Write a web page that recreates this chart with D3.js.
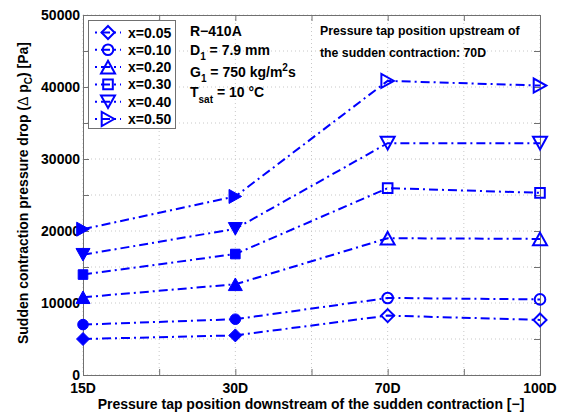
<!DOCTYPE html>
<html>
<head>
<meta charset="utf-8">
<script src="https://cdn.jsdelivr.net/npm/d3@7"></script>
<style>
  html, body { margin: 0; padding: 0; background: #fff; }
  svg { display: block; font-family: "Liberation Sans", Arial, Helvetica, sans-serif; }
</style>
</head>
<body>
<svg id="chart" width="565" height="416"></svg>
<script>
// Tap positions downstream of the contraction
const categories = ["15D", "30D", "70D", "100D"];
// Vapour qualities shown in the legend
const qualities = ["x=0.05", "x=0.10", "x=0.20", "x=0.30", "x=0.40", "x=0.50"];
// Sudden contraction pressure drop [Pa] per quality
const dpX005 = [5000, 5500, 8250, 7650];
const dpX010 = [7000, 7750, 10700, 10500];
const dpX020 = [10800, 12600, 19000, 18900];
const dpX030 = [13950, 16800, 25950, 25300];
const dpX040 = [16700, 20300, 32200, 32200];
const dpX050 = [20250, 24800, 40850, 40200];
const yTickValues = [0, 10000, 20000, 30000, 40000, 50000];
const markerShapes = ["diamond", "circle", "triangleUp", "square", "triangleDown", "triangleRight"];

const seriesValues = [dpX005, dpX010, dpX020, dpX030, dpX040, dpX050];

const svg = d3.select("#chart");
const blue = "#0000ff";
const axisGrey = "#707070";

const plotL = 83, plotR = 540, plotT = 15, plotB = 375;
const x = d3.scaleLinear().domain([0, categories.length - 1]).range([plotL, plotR]);
const y = d3.scaleLinear().domain([0, 50000]).range([plotB, plotT]);

// Marker outlines, centred on the origin
function markerPath(shape) {
  const p = d3.path();
  if (shape === "diamond") {
    const r = 6.5;
    p.moveTo(0, -r); p.lineTo(r, 0); p.lineTo(0, r); p.lineTo(-r, 0); p.closePath();
  } else if (shape === "circle") {
    p.moveTo(5.3, 0);
    p.arc(0, 0, 5.3, 0, 2 * Math.PI); p.closePath();
  } else if (shape === "square") {
    const r = 4.8;
    p.rect(-r, -r, 2 * r, 2 * r);
  } else if (shape === "triangleUp") {
    const w = 7, h = 6.3;
    p.moveTo(0, -h); p.lineTo(w, h); p.lineTo(-w, h); p.closePath();
  } else if (shape === "triangleDown") {
    const w = 7, h = 6.3;
    p.moveTo(0, h); p.lineTo(w, -h); p.lineTo(-w, -h); p.closePath();
  } else if (shape === "triangleRight") {
    const w = 7, h = 6.3;
    p.moveTo(h, 0); p.lineTo(-h, w); p.lineTo(-h, -w); p.closePath();
  }
  return p.toString();
}

// Dotted grid
const gridG = svg.append("g");
gridG.selectAll("line.gx").data(d3.range(0, categories.length - 1 + 0.001, 0.5))
  .join("line").attr("class", "gx")
  .attr("x1", d => x(d)).attr("x2", d => x(d))
  .attr("y1", plotT).attr("y2", plotB)
  .attr("stroke", "#c8c8c8").attr("stroke-width", 1).attr("stroke-dasharray", "1,3");
gridG.selectAll("line.gy").data(d3.range(0, 50001, 5000))
  .join("line").attr("class", "gy")
  .attr("x1", plotL).attr("x2", plotR)
  .attr("y1", d => y(d)).attr("y2", d => y(d))
  .attr("stroke", "#c8c8c8").attr("stroke-width", 1).attr("stroke-dasharray", "1,3");

// Axes with inward ticks on all four sides
const axG = svg.append("g");
const yAxisL = d3.axisLeft(y).tickValues(d3.range(0, 50001, 5000)).tickSize(-6).tickFormat("");
const yAxisR = d3.axisRight(y).tickValues(d3.range(0, 50001, 5000)).tickSize(-6).tickFormat("");
const xAxisB = d3.axisBottom(x).tickValues(d3.range(0, 3.001, 0.5)).tickSize(-6).tickFormat("");
const xAxisT = d3.axisTop(x).tickValues(d3.range(0, 3.001, 0.5)).tickSize(-6).tickFormat("");
axG.append("g").attr("transform", `translate(${plotL},0)`).call(yAxisL);
axG.append("g").attr("transform", `translate(${plotR},0)`).call(yAxisR);
axG.append("g").attr("transform", `translate(0,${plotB})`).call(xAxisB);
axG.append("g").attr("transform", `translate(0,${plotT})`).call(xAxisT);
axG.selectAll(".domain").attr("stroke", axisGrey).attr("stroke-width", 1);
axG.selectAll(".tick line").attr("stroke", axisGrey).attr("stroke-width", 1);

// Tick labels
svg.append("g").selectAll("text").data(yTickValues).join("text")
  .attr("x", plotL - 3).attr("y", d => y(d)).attr("dy", "0.34em")
  .attr("text-anchor", "end").attr("font-size", 14).attr("font-weight", "bold")
  .text(d => d);
svg.append("g").selectAll("text").data(categories).join("text")
  .attr("x", (d, i) => x(i)).attr("y", 393)
  .attr("text-anchor", "middle").attr("font-size", 14).attr("font-weight", "bold")
  .text(d => d);

// Axis titles
svg.append("text").attr("x", 311).attr("y", 409)
  .attr("text-anchor", "middle").attr("font-size", 14).attr("font-weight", "bold")
  .text("Pressure tap position downstream of the sudden contraction [\u2212]");
const yTitle = svg.append("text")
  .attr("transform", `translate(28,${(plotT + plotB) / 2 - 2}) rotate(-90)`)
  .attr("text-anchor", "middle").attr("font-size", 14).attr("font-weight", "bold");
yTitle.append("tspan").text("Sudden contraction pressure drop (");
yTitle.append("tspan").attr("font-weight", "normal").text("\u0394");
yTitle.append("tspan").text(" p");
yTitle.append("tspan").attr("font-size", 10).attr("dy", 4).text("C");
yTitle.append("tspan").attr("dy", -4).text(") [Pa]");

// Series: dash-dot lines, filled markers downstream 15D/30D, open beyond
const line = d3.line().x((d, i) => x(i)).y(d => y(d));
const seriesG = svg.append("g");
seriesValues.forEach((vals, s) => {
  seriesG.append("path").datum(vals).attr("d", line)
    .attr("fill", "none").attr("stroke", blue).attr("stroke-width", 2)
    .attr("stroke-dasharray", "9,4,2,4");
  seriesG.append("g").selectAll("path").data(vals).join("path")
    .attr("transform", (d, i) => `translate(${x(i)},${y(d)})`)
    .attr("d", markerPath(markerShapes[s]))
    .attr("fill", (d, i) => i < 2 ? blue : "none")
    .attr("stroke", blue).attr("stroke-width", (d, i) => i < 2 ? 1 : 2);
});

// Legend
const lg = svg.append("g");
lg.append("rect").attr("x", 88.5).attr("y", 20.5).attr("width", 87).attr("height", 108)
  .attr("fill", "#fff").attr("stroke", axisGrey).attr("stroke-width", 1);
qualities.forEach((q, i) => {
  const cy = 32.5 + i * 17.3;
  lg.append("line").attr("x1", 95).attr("x2", 121).attr("y1", cy).attr("y2", cy)
    .attr("stroke", blue).attr("stroke-width", 2).attr("stroke-dasharray", "2,4,9,4");
  lg.append("path").attr("transform", `translate(108,${cy})`)
    .attr("d", markerPath(markerShapes[i]))
    .attr("fill", "none").attr("stroke", blue).attr("stroke-width", 2);
  lg.append("text").attr("x", 128).attr("y", cy).attr("dy", "0.36em")
    .attr("font-size", 14).attr("font-weight", "bold").text(q);
});

// Test conditions
const cond = svg.append("g").attr("font-size", 14).attr("font-weight", "bold");
cond.append("text").attr("x", 190).attr("y", 36).text("R\u2212410A");
const d1 = cond.append("text").attr("x", 190).attr("y", 55);
d1.append("tspan").text("D");
d1.append("tspan").attr("font-size", 10).attr("dy", 5).text("1");
d1.append("tspan").attr("dy", -5).text(" = 7.9 mm");
const g1 = cond.append("text").attr("x", 190).attr("y", 77);
g1.append("tspan").text("G");
g1.append("tspan").attr("font-size", 10).attr("dy", 5).text("1");
g1.append("tspan").attr("dy", -5).text(" = 750 kg/m");
g1.append("tspan").attr("font-size", 10).attr("dy", -6).text("2");
g1.append("tspan").attr("dy", 6).text("s");
const ts = cond.append("text").attr("x", 190).attr("y", 97);
ts.append("tspan").text("T");
ts.append("tspan").attr("font-size", 10).attr("dy", 6).text("sat");
ts.append("tspan").attr("dy", -6).text(" = 10 \u00B0C");

// Upstream tap note
const note = svg.append("g").attr("font-size", 12.3).attr("font-weight", "bold");
note.append("text").attr("x", 320).attr("y", 35).text("Pressure tap position upstream of");
note.append("text").attr("x", 320).attr("y", 57).text("the sudden contraction: 70D");
</script>
</body>
</html>
